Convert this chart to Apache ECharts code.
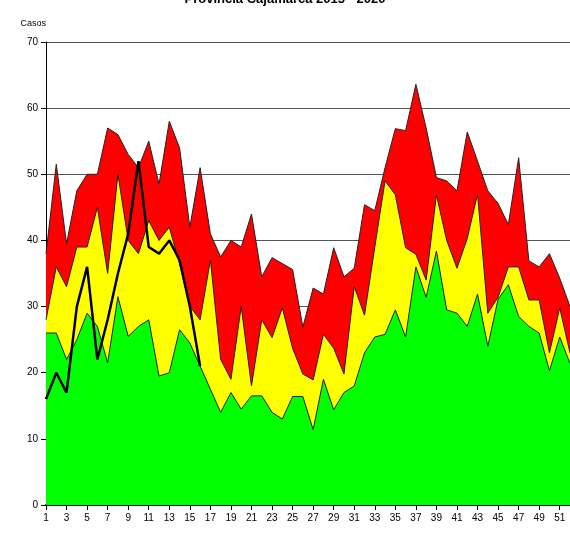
<!DOCTYPE html>
<html><head><meta charset="utf-8">
<script src="https://cdn.jsdelivr.net/npm/echarts@6/dist/echarts.min.js"></script>
<style>html,body{margin:0;padding:0;background:#fff}#c{width:570px;height:546px}</style>
</head><body><div id="c"></div>
<script>
const weeks = Array.from({length:52},(_,i)=>String(i+1));
const green = [26,26,22,25,29,27,21.5,31.5,25.5,27,28,19.5,20,26.5,24.5,21,17.5,14,17,14.5,16.5,16.5,14,13,16.4,16.4,11.4,19,14.4,17,18,23,25.4,25.8,29.5,25.4,36,31.4,38.4,29.5,29,27,31.9,24,31.1,33.3,28.5,27,26,20.3,25.4,21.4];
const yellow = [28,36,33,39,39,45,35,50,40,38,43,40,42,36.5,30,28,37,22,19,30,18,28,25.3,29.8,23.7,19.8,18.9,25.8,23.7,19.8,33,28.7,39,49,46.9,38.9,37.9,34,46.9,40,35.8,40.3,47,29,31.4,36,36,31,31,23,29.8,23];
const red = [38,51.5,39.5,47.5,50,50,57,56,53,51,55,48.5,58,54,42,51,41,37.5,40,39,44,34.5,37.4,36.5,35.6,26.9,32.8,31.9,38.9,34.5,35.8,45.4,44.5,51,56.9,56.6,63.6,57,49.5,49,47.5,56.4,52,47.5,45.6,42.4,52.5,36.9,36,38,34.3,30];
const current = [16,20,17,30,36,22,28,35,41,52,39,38,40,37,30,21];
const F = 'Liberation Sans, Arial, sans-serif';
const chart = echarts.init(document.getElementById('c'));
const area = (name,data,color)=>({name,type:'line',data,symbol:'none',silent:true,
  lineStyle:{color:'#222',width:1},areaStyle:{color,opacity:1},z:2});
chart.setOption({
  animation:false,
  title:{text:'Provincia Cajamarca 2015 - 2020',left:'center',top:-12,textStyle:{fontSize:13,fontWeight:'bold',color:'#000',fontFamily:F}},
  grid:{left:46,right:-3,top:42,bottom:41},
  xAxis:{type:'category',data:weeks,boundaryGap:false,
    axisLine:{lineStyle:{color:'#000',width:2}},
    axisTick:{show:true,alignWithLabel:true,lineStyle:{color:'#000'}},
    axisLabel:{interval:1,color:'#000',fontSize:10,fontFamily:F},
    splitLine:{show:false}},
  yAxis:{type:'value',min:0,max:70,interval:10,name:'Casos',nameLocation:'end',nameGap:14,
    nameTextStyle:{color:'#000',fontSize:9,align:'right',fontFamily:F},
    axisLine:{show:true,lineStyle:{color:'#000'}},axisTick:{show:true,lineStyle:{color:'#000'}},
    axisLabel:{color:'#000',fontSize:10,fontFamily:F},
    splitLine:{lineStyle:{color:'#555',width:1}}},
  series:[
    area('Epidemia',red,'#ff0000'),
    area('Alarma',yellow,'#ffff00'),
    area('Éxito',green,'#00ff00'),
    {name:'2020',type:'line',data:current,symbol:'none',lineStyle:{color:'#000',width:2.5},z:5}
  ]
});
</script></body></html>
